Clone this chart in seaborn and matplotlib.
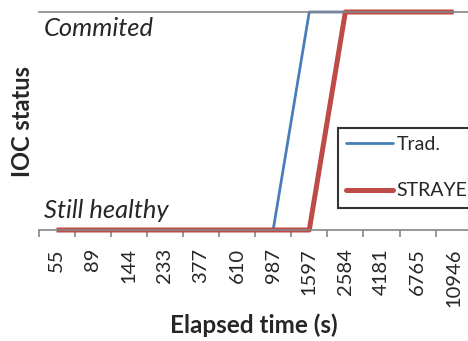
import matplotlib
matplotlib.use("Agg")
import matplotlib.pyplot as plt
import seaborn as sns
import pandas as pd

# Elapsed-time categories (s) and the IOC status of each approach (0 = healthy, 1 = committed)
elapsed = ["55", "89", "144", "233", "377", "610", "987", "1597", "2584", "4181", "6765", "10946"]
trad = [0, 0, 0, 0, 0, 0, 0, 1, 1, 1, 1, 1]
strayer = [0, 0, 0, 0, 0, 0, 0, 0, 1, 1, 1, 1]
series_names = ["Trad.", "STRAYER"]
status_labels = ["Still healthy", "Commited"]

sns.set_theme(style="white")
plt.rcParams["font.family"] = ["Lato", "DejaVu Sans"]

n = len(elapsed)
df = pd.DataFrame({
    "pos": list(range(n)) * 2,
    "status": trad + strayer,
    "series": [series_names[0]] * n + [series_names[1]] * n,
})

fig = plt.figure(figsize=(4.68, 3.41), dpi=100)
ax = fig.add_axes([0.0823, 0.3255, 0.9256, 0.6393])

palette = {"Trad.": "#4a7ebb", "STRAYER": "#be4b48"}
widths = [2.0, 3.6]
sns.lineplot(data=df, x="pos", y="status", hue="series", palette=palette,
             ax=ax, legend=False, estimator=None, sort=False)
for line, lw in zip(ax.get_lines(), widths):
    line.set_linewidth(lw)
    line.set_clip_on(False)
    line.set_solid_capstyle("butt")

ax.set_xlim(-0.5, n - 0.5)
ax.set_ylim(0, 1)

gray = "#868686"
for side in ["left", "right"]:
    ax.spines[side].set_visible(False)
for side in ["bottom", "top"]:
    ax.spines[side].set_color(gray)
    ax.spines[side].set_linewidth(1.2)

ax.set_xticks(range(n))
ax.set_xticklabels(elapsed, rotation=90, fontsize=14.5)
ax.set_xticks([i - 0.5 for i in range(n + 1)], minor=True)
ax.tick_params(axis="x", which="major", length=0, pad=13)
ax.tick_params(axis="x", which="minor", length=5, width=1.2, color=gray, bottom=True)
ax.set_yticks([])

ax.set_xlabel("Elapsed time (s)", fontsize=17.5, fontweight="bold")
ax.xaxis.set_label_coords(0.496, -0.436)
ax.xaxis.label.set_va("center")
ax.set_ylabel("IOC status", fontsize=17, fontweight="bold")
ax.yaxis.set_label_coords(-0.038, 0.5)
ax.yaxis.label.set_va("center")

ax.text(0.0127, 0.89, status_labels[1], transform=ax.transAxes, fontsize=18.4,
        style="italic", va="baseline", ha="left")
ax.text(0.0127, 0.055, status_labels[0], transform=ax.transAxes, fontsize=18.4,
        style="italic", va="baseline", ha="left")

handles = [plt.Line2D([], [], color=palette[s], lw=w) for s, w in zip(series_names, widths)]
leg = fig.legend(handles, series_names, loc="upper left",
                 bbox_to_anchor=(338 / 468, 1 - 128 / 341), fontsize=14,
                 frameon=True, fancybox=False, handlelength=2.4, handletextpad=0.2,
                 labelspacing=1.5, borderpad=0.42, borderaxespad=0)
leg.get_frame().set_edgecolor("black")
leg.get_frame().set_linewidth(1.5)

fig.savefig("out.png", dpi=100)
